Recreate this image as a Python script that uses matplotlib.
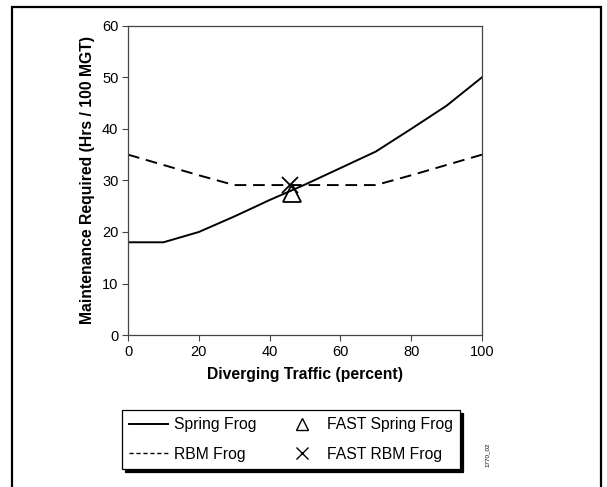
import matplotlib
matplotlib.use("Agg")
import matplotlib.pyplot as plt
from matplotlib.patches import Rectangle
from matplotlib.lines import Line2D

plt.rcParams['font.family'] = ['Liberation Sans', 'DejaVu Sans']

x_vals = [0, 10, 20, 30, 40, 50, 60, 70, 80, 90, 100]
spring_frog = [18, 18, 20, 23, 26.2, 29.2, 32.4, 35.6, 40, 44.5, 50]
rbm_frog = [35, 33, 31, 29.1, 29.1, 29.1, 29.1, 29.1, 31, 33, 35]
fast_spring_x = [46.4]
fast_spring_y = [27.6]
fast_rbm_x = [45.8]
fast_rbm_y = [29.2]
x_ticks = [0, 20, 40, 60, 80, 100]
y_ticks = [0, 10, 20, 30, 40, 50, 60]

fig = plt.figure(figsize=(6.07, 4.87), dpi=100)
ax = fig.add_axes([0.211, 0.312, 0.583, 0.635])

l1, = ax.plot(x_vals, spring_frog, color='black', lw=1.4, label='Spring Frog')
l2, = ax.plot(x_vals, rbm_frog, color='black', lw=1.4, ls=(0, (6, 3.5)), label='RBM Frog')
m1, = ax.plot(fast_spring_x, fast_spring_y, ls='none', marker='^', ms=13, mfc='none',
              mec='black', mew=1.3, label='FAST Spring Frog')
m2, = ax.plot(fast_rbm_x, fast_rbm_y, ls='none', marker='x', ms=12, mec='black',
              mew=1.3, label='FAST RBM Frog')

ax.set_xlim(0, 100)
ax.set_ylim(0, 60)
ax.set_xticks(x_ticks)
ax.set_yticks(y_ticks)
ax.tick_params(direction='out', length=4, width=0.8, color='#444444', labelsize=10.5, pad=3)
for s in ax.spines.values():
    s.set_color('#444444')
    s.set_linewidth(0.9)
ax.set_xlabel('Diverging Traffic (percent)', fontsize=11.3, fontweight='bold', labelpad=6)
ax.set_ylabel('Maintenance Required (Hrs / 100 MGT)', fontsize=11.3, fontweight='bold', labelpad=5)

# legend handles (markers without lines)
h3 = Line2D([], [], ls='none', marker='^', ms=9, mfc='none', mec='black', mew=1.0)
h4 = Line2D([], [], ls='none', marker='x', ms=9, mec='black', mew=1.0)
leg = fig.legend([l1, l2, h3, h4],
                 ['Spring Frog', 'RBM Frog', 'FAST Spring Frog', 'FAST RBM Frog'],
                 ncol=2, loc='lower left',
                 bbox_to_anchor=(0.201, 0.037, 0.557, 0.132),
                 bbox_transform=fig.transFigure, mode='expand',
                 borderaxespad=0, fancybox=False, edgecolor='black',
                 framealpha=1, fontsize=11.3, handlelength=2.5, handletextpad=0.35,
                 labelspacing=0.95, borderpad=0.45,
                 shadow={'color': 'black', 'alpha': 1})
leg.get_frame().set_linewidth(0.9)
l2h = leg.legend_handles[1]
l2h.set_linestyle((0, (3, 2)))
l2h.set_linewidth(1.0)

fig.text(0.802, 0.066, '1770_02', rotation=90, fontsize=4.5, ha='center', va='center')

# outer frame
fig.patches.append(Rectangle((12 / 607, -0.05), (601 - 12) / 607, 1 - 7 / 487 + 0.05,
                             transform=fig.transFigure, fill=False,
                             edgecolor='black', lw=1.6))

fig.savefig('out.png', dpi=100)
